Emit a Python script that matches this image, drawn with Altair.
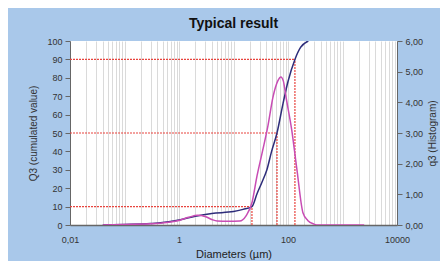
import altair as alt
import pandas as pd

# Cumulative curve Q3 (%)
diam_cum = [0.04, 0.1, 0.3, 0.5, 1, 2, 4, 10, 15, 21.8, 27, 33, 41, 50, 62.8, 81, 100, 134, 170, 236]
q3_cum = [0, 0.3, 0.8, 1.3, 2.7, 4.8, 6.3, 7.3, 8.5, 10, 17, 23, 30, 40, 50, 66, 78, 90, 96.5, 100]

# Histogram q3
diam_hist = [0.04, 0.1, 0.3, 0.6, 1.0, 1.5, 2.2, 3.0, 4.0, 5.0, 8.0, 13, 17, 22, 27, 34, 43, 53, 65, 74, 82,
             92, 117, 146, 188, 230, 300, 355, 2500]
q3_hist = [0, 0.02, 0.04, 0.08, 0.15, 0.25, 0.32, 0.28, 0.18, 0.13, 0.12, 0.13, 0.3, 0.75, 1.6, 2.4, 3.25, 4.17,
           4.7, 4.83, 4.7, 4.17, 3.1, 1.8, 0.4, 0.15, 0.03, 0, 0]

# D10 / D50 / D90 markers
d_levels = [10, 50, 90]
d_values = [21.8, 62.8, 134]

x_tick_values = [0.01, 1, 100, 10000]
x_tick_labels = ["0,01", "1", "100", "10000"]
grid_values = [d * 10 ** k for k in range(-2, 4) for d in range(1, 10)] + [10000]

left_ticks = list(range(0, 101, 10))
right_ticks = [0, 1, 2, 3, 4, 5, 6]

cum_df = pd.DataFrame({"d": diam_cum, "q": q3_cum})
hist_df = pd.DataFrame({"d": diam_hist, "q": q3_hist})
h_df = pd.DataFrame({"x0": [0.01] * len(d_values), "x1": d_values, "y": d_levels})
v_df = pd.DataFrame({"x": d_values, "y0": [0] * len(d_values), "y1": d_levels})

label_expr = " : ".join(
    f"datum.value == {v} ? '{l}'" for v, l in zip(x_tick_values, x_tick_labels)
) + " : ''"

xscale = alt.Scale(type="log", domain=[0.01, 10000], nice=False)
font = "Liberation Sans"
W, H = 327, 184
RED = "#e8443e"

x_axis = alt.Axis(
    values=grid_values, grid=True, gridColor="#dadada", gridWidth=1, ticks=False,
    labelExpr=label_expr, labelFontSize=9, labelColor="#333", labelFont=font, labelPadding=14,
    labelBaseline="middle", labelFlush=False, labelOverlap=False,
    domainColor="#666", domainWidth=1.5,
    title="Diameters (µm)", titleFont=font, titleFontSize=11, titleFontWeight="normal",
    titleColor="#222", titleY=29, titleBaseline="middle",
)

y_left_axis = alt.Axis(
    values=left_ticks, grid=False, tickSize=5, tickColor="#666", domainColor="#666",
    labelFontSize=9, labelColor="#333", labelFont=font, labelPadding=3, labelOverlap=False,
    title="Q3 (cumulated value)", titleFont=font, titleFontSize=10, titleFontWeight="normal",
    titleColor="#333", titleX=-37, titleY=H / 2, titleAngle=270, titleBaseline="middle",
)

yleft = alt.Scale(domain=[0, 100], nice=False)
yright = alt.Scale(domain=[0, 6], nice=False)

hrules = alt.Chart(h_df).mark_rule(color=RED, strokeWidth=1.2, strokeDash=[2, 1]).encode(
    x=alt.X("x0:Q", scale=xscale, axis=x_axis), x2="x1:Q",
    y=alt.Y("y:Q", scale=yleft, axis=y_left_axis),
)
vrules = alt.Chart(v_df).mark_rule(color=RED, strokeWidth=1.2, strokeDash=[2, 1]).encode(
    x=alt.X("x:Q", scale=xscale, axis=x_axis),
    y=alt.Y("y0:Q", scale=yleft, axis=y_left_axis), y2="y1:Q",
)
cum = alt.Chart(cum_df).mark_line(color="#2e2d7a", strokeWidth=1.5, interpolate="monotone", clip=True).encode(
    x=alt.X("d:Q", scale=xscale, axis=x_axis),
    y=alt.Y("q:Q", scale=yleft, axis=y_left_axis),
)

left = alt.layer(hrules, vrules, cum)

hist = alt.Chart(hist_df).mark_line(color="#c84cb4", strokeWidth=1.5, interpolate="monotone", clip=True).encode(
    x=alt.X("d:Q", scale=xscale, axis=x_axis),
    y=alt.Y("q:Q", scale=yright, axis=alt.Axis(
        orient="right", values=right_ticks, grid=False, tickSize=5, tickColor="#666", domainColor="#666",
        labelExpr="replace(format(datum.value, '.2f'), '.', ',')",
        labelFontSize=9, labelColor="#333", labelFont=font, labelPadding=3, labelOverlap=False,
        title="q3 (Histogram)", titleFont=font, titleFontSize=10, titleFontWeight="normal",
        titleColor="#333", titleX=35, titleY=H / 2, titleAngle=270, titleBaseline="middle",
    )),
)

chart = alt.layer(left, hist).resolve_scale(y="independent").properties(
    width=W, height=H,
    padding={"left": 62, "top": 33, "right": 43, "bottom": 36},
    autosize=alt.AutoSizeParams(type="none"),
    background="#a9c8ea",
    title=alt.TitleParams("Typical result", font=font, fontSize=14, fontWeight="bold", color="#111",
                          anchor="middle", offset=6),
).configure_view(fill="white", stroke=None)

chart.save("out.html", embed_options={"renderer": "svg", "actions": False})
